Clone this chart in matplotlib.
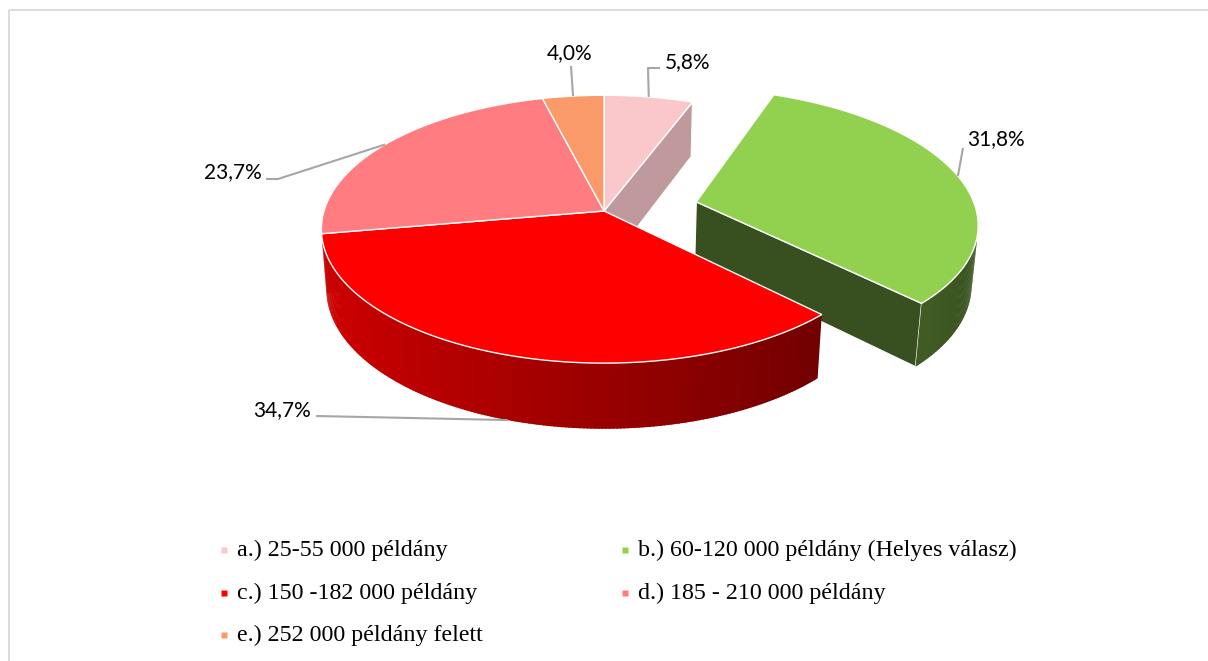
import matplotlib
matplotlib.use("Agg")
import matplotlib.pyplot as plt
import numpy as np
from matplotlib.patches import Polygon, Rectangle

# data
categories = [
    "a.) 25-55 000 példány",
    "b.) 60-120 000 példány (Helyes válasz)",
    "c.) 150 -182 000 példány",
    "d.) 185 - 210 000 példány",
    "e.) 252 000 példány felett",
]
shares = [5.8, 31.8, 34.7, 23.7, 4.0]
value_labels = ["5,8%", "31,8%", "34,7%", "23,7%", "4,0%"]
colors = ["#FAC8CB", "#92D050", "#FF0000", "#FF7C80", "#F99A68"]
explode = [0.0, 0.34, 0.0, 0.0, 0.0]

# 3d pie camera / layout (pixels)
CX, CY = 604, 211
F, D = 1820.0, 6.5
TILT = np.radians(28)
H = 0.245
SN, CS = np.sin(TILT), np.cos(TILT)
CAM = np.array([0.0, -D * CS, D * SN])


def proj(X, Y, Z):
    v = Y * SN + Z * CS
    w = Y * CS - Z * SN
    k = F / (D + w)
    return CX + X * k, CY - v * k, w


def shade(hexcol, f):
    rgb = np.array(matplotlib.colors.to_rgb(hexcol))
    return tuple(np.clip(rgb * f, 0, 1))


def face(pts3):
    pts3 = np.asarray(pts3)
    x, y, w = proj(pts3[:, 0], pts3[:, 1], pts3[:, 2])
    return np.column_stack([x, y]), w.mean(), pts3.mean(axis=0)


fig = plt.figure(figsize=(12.08, 6.61), dpi=100)
ax = fig.add_axes([0, 0, 1, 1])
ax.set_xlim(0, 1208)
ax.set_ylim(661, 0)
ax.axis("off")

# chart frame
ax.add_patch(Rectangle((8.5, 10), 1215, 670, fill=False, ec="#D9D9D9", lw=1.3))

edges = np.concatenate([[0], np.cumsum(shares)]) / sum(shares) * 360
sides, tops, anchors = [], [], []
for i, col in enumerate(colors):
    a1, a2 = np.radians(edges[i]), np.radians(edges[i + 1])
    mid = (a1 + a2) / 2
    ox, oy = explode[i] * np.sin(mid), explode[i] * np.cos(mid)

    # outer rim, split into strips for the shading gradient (strips overlap a bit to hide seams)
    n = max(3, int(np.degrees(a2 - a1) * 1.5))
    ang = np.linspace(a1, a2, n + 1)
    step = ang[1] - ang[0]
    for t0, t1 in zip(ang[:-1], ang[1:]):
        te = min(t1 + 0.6 * step, a2)
        pts = [(ox + np.sin(t0), oy + np.cos(t0), 0), (ox + np.sin(te), oy + np.cos(te), 0),
               (ox + np.sin(te), oy + np.cos(te), -H), (ox + np.sin(t0), oy + np.cos(t0), -H)]
        xy, depth, c3 = face(pts)
        tm = (t0 + t1) / 2
        nrm = np.array([np.sin(tm), np.cos(tm), 0])
        if nrm @ (CAM - c3) > 0:
            fc = shade(col, max(0.40, 0.6 - 0.22 * nrm[0]))
            sides.append((depth, xy, fc, 0, "none"))

    # the two cut faces
    for t, nrm in [(a1, np.array([-np.cos(a1), np.sin(a1), 0])),
                   (a2, np.array([np.cos(a2), -np.sin(a2), 0]))]:
        pts = [(ox, oy, 0), (ox + np.sin(t), oy + np.cos(t), 0),
               (ox + np.sin(t), oy + np.cos(t), -H), (ox, oy, -H)]
        xy, depth, c3 = face(pts)
        if nrm @ (CAM - c3) > 0:
            sides.append((depth, xy, shade(col, 0.55 + 0.23 * nrm[0]), 0.9, "white"))

    arc = np.linspace(a1, a2, n + 1)
    top = [(ox, oy, 0)] + [(ox + np.sin(t), oy + np.cos(t), 0) for t in arc]
    xy, depth, _ = face(top)
    tops.append((xy, col))

    zz = -H if i == 2 else 0
    ax_, ay_, _ = proj(ox + np.sin(mid), oy + np.cos(mid), zz)
    anchors.append((ax_, ay_))

for depth, xy, fc, lw, ec in sorted(sides, key=lambda s: -s[0]):
    ax.add_patch(Polygon(xy, closed=True, fc=fc, ec=ec, lw=lw))
for xy, col in tops:
    ax.add_patch(Polygon(xy, closed=True, fc=col, ec="white", lw=1.0))

# data labels with leader lines
label_pos = [(665, 62, "left"), (967, 139, "left"), (311, 410, "right"), (262, 172, "right"), (570, 53, "center")]
elbows = [[(660, 68), (648, 68)], [(963, 148)], [(316, 416)], [(266, 179), (278, 179)], [(571, 66)]]
for i, txt in enumerate(value_labels):
    lx, ly, ha = label_pos[i]
    ax.text(lx, ly, txt, ha=ha, va="center", fontsize=15, family=["Lato", "DejaVu Sans"], color="#000000")
    path = elbows[i] + [anchors[i]]
    ax.plot([p[0] for p in path], [p[1] for p in path], color="#A6A6A6", lw=1.5, solid_capstyle="butt")

# legend, row-wise in two columns
leg_x = [224, 625]
leg_y = [550, 593, 635]
for i, lab in enumerate(categories):
    x0, y0 = leg_x[i % 2], leg_y[i // 2]
    ax.plot(x0, y0, marker="s", ms=3.8, color=colors[i], mec="none")
    ax.text(x0 + 13, y0, lab, ha="left", va="center", fontsize=17.3,
            family=["Liberation Serif", "DejaVu Serif"], color="#000000")

fig.savefig("out.png", dpi=100)
